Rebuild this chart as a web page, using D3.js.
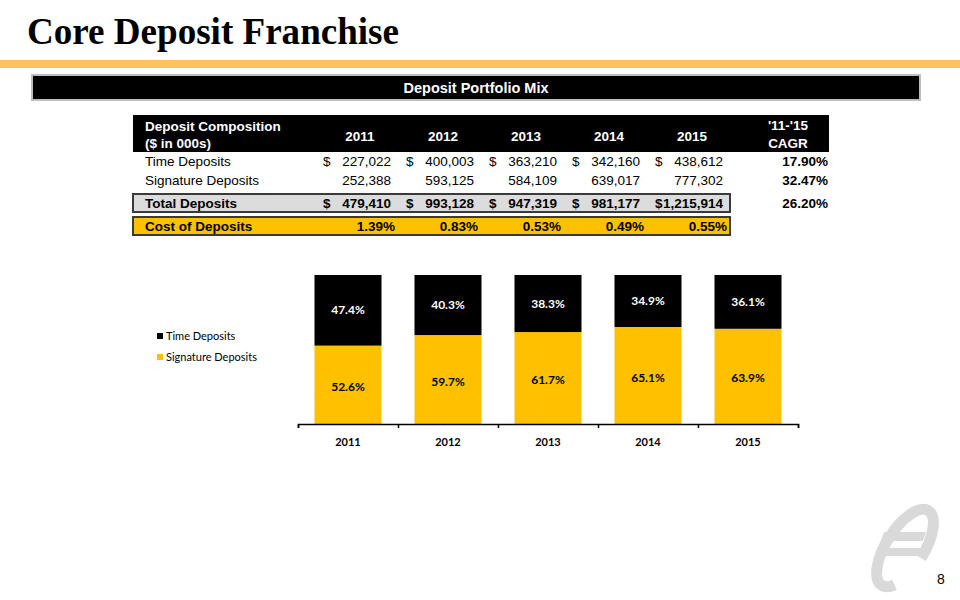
<!DOCTYPE html>
<html>
<head>
<meta charset="utf-8">
<script src="https://cdn.jsdelivr.net/npm/d3@7"></script>
<style>
  html, body { margin: 0; padding: 0; background: #fff; }
  svg { display: block; }
</style>
</head>
<body>
<svg id="chart" width="960" height="600"></svg>
<script>
// ---------- Data ----------
const years = ["2011", "2012", "2013", "2014", "2015"];
const timeDeposits = [227022, 400003, 363210, 342160, 438612];
const signatureDeposits = [252388, 593125, 584109, 639017, 777302];
const totalDeposits = [479410, 993128, 947319, 981177, 1215914];
const costOfDeposits = [1.39, 0.83, 0.53, 0.49, 0.55];
const cagrValues = [17.90, 32.47, 26.20];
const timePct = [47.4, 40.3, 38.3, 34.9, 36.1];
const signaturePct = [52.6, 59.7, 61.7, 65.1, 63.9];
const seriesNames = ["Time Deposits", "Signature Deposits"];

// ---------- Styles ----------
const GOLD = "#FFC000";
const SANS = "'Liberation Sans', Arial, sans-serif";
const CAL = "Lato, 'Open Sans', sans-serif";

const svg = d3.select("#chart");

// Title
svg.append("text")
  .attr("x", 27).attr("y", 44)
  .attr("font-family", "'Liberation Serif', 'DejaVu Serif', serif")
  .attr("font-weight", "bold")
  .attr("font-size", 37)
  .attr("textLength", 372).attr("lengthAdjust", "spacingAndGlyphs")
  .attr("fill", "#000")
  .text("Core Deposit Franchise");

// orange rule
svg.append("rect").attr("x", 0).attr("y", 60).attr("width", 960).attr("height", 8).attr("fill", "#FDC35E");

// banner
svg.append("rect").attr("x", 32).attr("y", 75).attr("width", 888).attr("height", 25)
  .attr("fill", "#000").attr("stroke", "#bdbdbd").attr("stroke-width", 2);
svg.append("text").attr("x", 476).attr("y", 93).attr("text-anchor", "middle")
  .attr("font-family", SANS).attr("font-weight", "bold").attr("font-size", 14.5)
  .attr("fill", "#fff").text("Deposit Portfolio Mix");

// ---------- Table ----------
const colRight = d3.scalePoint().domain(years).range([391, 723]);
const fmt = d3.format(",");
const pctFmt = d3.format(".2f");

svg.append("rect").attr("x", 133).attr("y", 115).attr("width", 696).attr("height", 37).attr("fill", "#000");
const hdr = svg.append("g").attr("font-family", SANS).attr("font-weight", "bold").attr("font-size", 13.5).attr("fill", "#fff");
hdr.append("text").attr("x", 145).attr("y", 131).text("Deposit Composition");
hdr.append("text").attr("x", 145).attr("y", 148).text("($ in 000s)");
hdr.selectAll("text.yr").data(years).join("text").attr("class", "yr")
  .attr("x", d => colRight(d) - 31).attr("y", 141).attr("text-anchor", "middle").text(d => d);
hdr.append("text").attr("x", 788).attr("y", 130).attr("text-anchor", "middle").text("'11-'15");
hdr.append("text").attr("x", 788).attr("y", 148).attr("text-anchor", "middle").text("CAGR");

// boxes for total and cost rows
svg.append("rect").attr("x", 133).attr("y", 194).attr("width", 597).attr("height", 18)
  .attr("fill", "#dcdcdc").attr("stroke", "#3a3a3a").attr("stroke-width", 2);
svg.append("rect").attr("x", 133).attr("y", 217).attr("width", 597).attr("height", 18)
  .attr("fill", GOLD).attr("stroke", "#3a3a3a").attr("stroke-width", 2);

function numberRow(y, label, values, withDollar, bold) {
  const g = svg.append("g").attr("font-family", SANS).attr("font-size", 13.5)
    .attr("font-weight", bold ? "bold" : "normal").attr("fill", "#000");
  g.append("text").attr("x", 145).attr("y", y).text(label);
  g.selectAll("text.v").data(years).join("text").attr("class", "v")
    .attr("x", d => colRight(d)).attr("y", y).attr("text-anchor", "end")
    .text((d, i) => fmt(values[i]));
  if (withDollar) {
    g.selectAll("text.d").data(years).join("text").attr("class", "d")
      .attr("x", d => colRight(d) - 68).attr("y", y).text("$");
  }
  return g;
}
numberRow(166, seriesNames[0], timeDeposits, true, false);
numberRow(185, seriesNames[1], signatureDeposits, false, false);
numberRow(208, "Total Deposits", totalDeposits, true, true);

const cost = svg.append("g").attr("font-family", SANS).attr("font-size", 13.5).attr("font-weight", "bold");
cost.append("text").attr("x", 145).attr("y", 231).text("Cost of Deposits");
cost.selectAll("text.v").data(years).join("text").attr("class", "v")
  .attr("x", d => colRight(d) + 4).attr("y", 231).attr("text-anchor", "end")
  .text((d, i) => pctFmt(costOfDeposits[i]) + "%");

const cagrY = [166, 185, 208];
svg.append("g").attr("font-family", SANS).attr("font-size", 13.5).attr("font-weight", "bold")
  .selectAll("text").data(cagrValues).join("text")
  .attr("x", 828).attr("y", (d, i) => cagrY[i]).attr("text-anchor", "end")
  .text(d => pctFmt(d) + "%");

// ---------- Stacked bar chart ----------
const x = d3.scaleBand().domain(years).range([298, 798]).paddingInner(0.33).paddingOuter(0.165);
const y = d3.scaleLinear().domain([0, 100]).range([424, 275]);

const rows = years.map((yr, i) => ({ year: yr, sig: signaturePct[i], time: timePct[i] }));
const stack = d3.stack().keys(["sig", "time"]);
const layers = stack(rows);
const colors = { sig: GOLD, time: "#000" };

const bars = svg.append("g");
layers.forEach(layer => {
  bars.append("g").attr("fill", colors[layer.key])
    .selectAll("rect").data(layer).join("rect")
    .attr("x", d => x(d.data.year))
    .attr("width", x.bandwidth())
    .attr("y", d => y(d[1]))
    .attr("height", d => y(d[0]) - y(d[1]));
  bars.append("g")
    .attr("font-family", CAL).attr("font-weight", "bold").attr("font-size", 12)
    .attr("fill", layer.key === "time" ? "#fff" : "#000")
    .attr("text-anchor", "middle")
    .selectAll("text").data(layer).join("text")
    .attr("x", d => x(d.data.year) + x.bandwidth() / 2)
    .attr("y", d => (y(d[0]) + y(d[1])) / 2 + 4 + (layer.key === "sig" ? 2 : 0))
    .text(d => d3.format(".1f")(d.data[layer.key]) + "%");
});

// axis: baseline with ticks at category boundaries
const tickScale = d3.scaleLinear().domain([0, years.length]).range([298, 798]);
const axisG = svg.append("g").attr("transform", "translate(0,424)")
  .call(d3.axisBottom(tickScale).ticks(years.length).tickSize(4).tickSizeOuter(4).tickFormat(""));
axisG.select(".domain").attr("stroke", "#000").attr("stroke-width", 1.5);
axisG.selectAll(".tick line").attr("stroke", "#000").attr("stroke-width", 1.5);

const labelAxis = svg.append("g").attr("transform", "translate(0,424)")
  .call(d3.axisBottom(x).tickSize(0).tickPadding(14));
labelAxis.select(".domain").remove();
labelAxis.selectAll("text").attr("font-family", CAL).attr("font-weight", "bold")
  .attr("font-size", 11).attr("fill", "#000");

// legend
const legend = svg.append("g").attr("font-family", CAL).attr("font-size", 11).attr("fill", "#000");
const legendItems = [{ name: seriesNames[0], color: "#000", y: 337 }, { name: seriesNames[1], color: GOLD, y: 358 }];
legendItems.forEach(it => {
  legend.append("rect").attr("x", 157).attr("y", it.y - 4).attr("width", 6).attr("height", 6).attr("fill", it.color);
  legend.append("text").attr("x", 166).attr("y", it.y + 3).text(it.name);
});

// ---------- Logo & page number ----------
const logo = svg.append("g").attr("fill", "none").attr("stroke", "#d9d9d9");
logo.append("ellipse").attr("cx", 0).attr("cy", 0).attr("rx", 19).attr("ry", 44)
  .attr("transform", "translate(905,548) rotate(32)")
  .attr("stroke-width", 11)
  .attr("stroke-dasharray", "172 38").attr("stroke-dashoffset", "172");
logo.append("path").attr("d", "M884,532 L926,532 L923,541 L881,541 Z").attr("fill", "#d9d9d9").attr("stroke", "none");
logo.append("path").attr("d", "M879,548 L931,548 L928,556 L876,556 Z").attr("fill", "#d9d9d9").attr("stroke", "none");

svg.append("text").attr("x", 937).attr("y", 584).attr("font-family", SANS).attr("font-size", 14)
  .attr("fill", "#000").text("8");
</script>
</body>
</html>
